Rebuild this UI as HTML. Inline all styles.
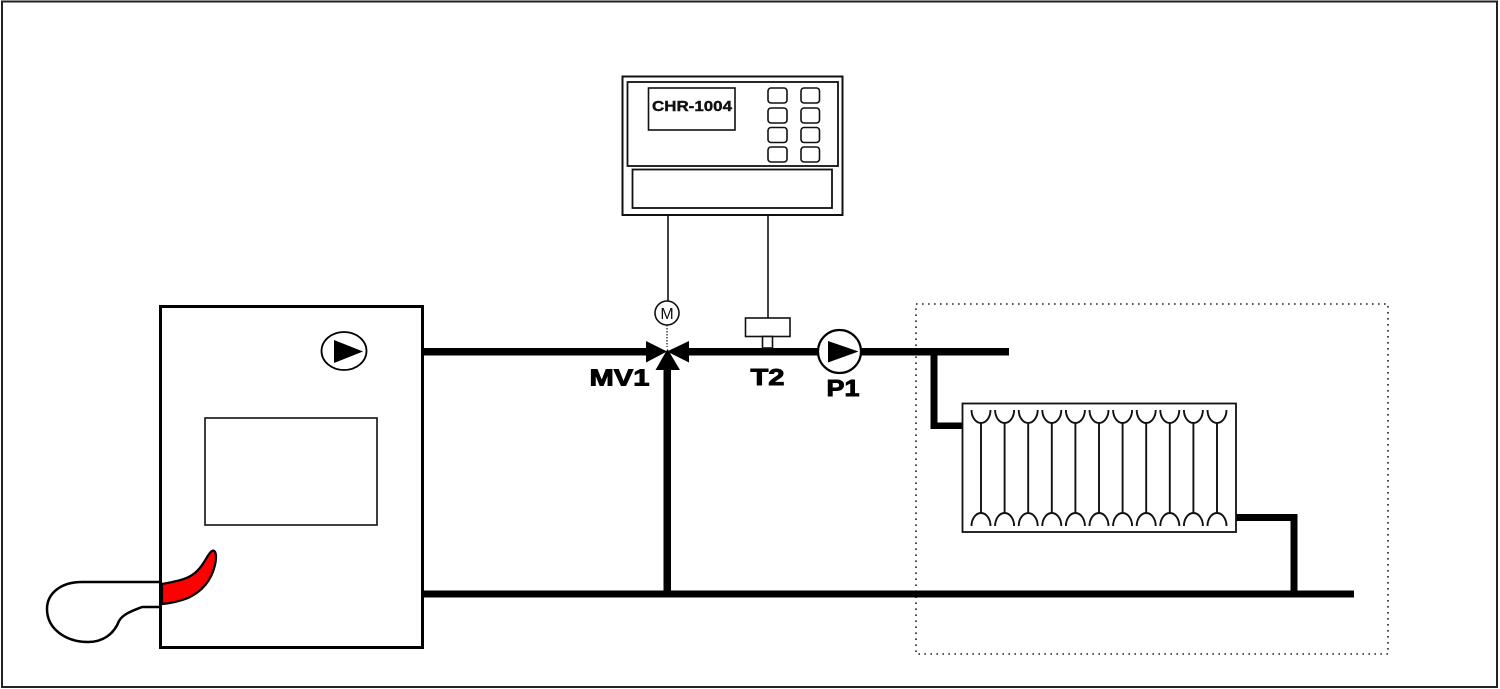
<!DOCTYPE html>
<html>
<head>
<meta charset="utf-8">
<style>
html,body{margin:0;padding:0;background:#fff;}
svg{display:block;}
text{font-family:"Liberation Sans",Arial,sans-serif;}
</style>
</head>
<body>
<svg width="1500" height="689" viewBox="0 0 1500 689" xmlns="http://www.w3.org/2000/svg">
  <rect x="0" y="0" width="1500" height="689" fill="#fff"/>
  <!-- outer border -->
  <rect x="2" y="1.5" width="1495" height="685.5" fill="none" stroke="#222" stroke-width="2"/>

  <!-- dotted zone -->
  <rect x="916" y="304" width="472" height="350" fill="none" stroke="#222" stroke-width="1.6" stroke-dasharray="1.6 4.4"/>

  <!-- controller -->
  <rect x="622.5" y="76.5" width="220" height="138.5" fill="#fff" stroke="#111" stroke-width="2"/>
  <rect x="627.5" y="82" width="210.5" height="84" fill="none" stroke="#111" stroke-width="1.8"/>
  <rect x="632.5" y="169.5" width="199.5" height="38.5" fill="none" stroke="#111" stroke-width="1.8"/>
  <rect x="648.5" y="88" width="86.5" height="42" fill="none" stroke="#111" stroke-width="1.6"/>
  <text x="652" y="111" font-size="15" font-weight="bold" fill="#111" stroke="#111" stroke-width="0.4" textLength="80" lengthAdjust="spacingAndGlyphs">CHR-1004</text>
  <g fill="none" stroke="#111" stroke-width="1.6">
    <rect x="768" y="88" width="19" height="15" rx="3"/>
    <rect x="801" y="88" width="18.5" height="15" rx="3"/>
    <rect x="768" y="108" width="19" height="15" rx="3"/>
    <rect x="801" y="108" width="18.5" height="15" rx="3"/>
    <rect x="768" y="127.5" width="19" height="15" rx="3"/>
    <rect x="801" y="127.5" width="18.5" height="15" rx="3"/>
    <rect x="768" y="147" width="19" height="15" rx="3"/>
    <rect x="801" y="147" width="18.5" height="15" rx="3"/>
  </g>
  <!-- control lines -->
  <line x1="668" y1="215" x2="668" y2="301" stroke="#111" stroke-width="1.6"/>
  <line x1="768" y1="215" x2="768" y2="318" stroke="#111" stroke-width="1.6"/>

  <!-- M actuator -->
  <circle cx="667" cy="313" r="12" fill="#fff" stroke="#111" stroke-width="1.6"/>
  <text x="667" y="319" font-size="16" text-anchor="middle" fill="#111">M</text>
  <line x1="667" y1="325" x2="667" y2="347" stroke="#111" stroke-width="1.2" stroke-dasharray="1.5 1.5"/>

  <!-- main pipes -->
  <g fill="#000">
    <rect x="424" y="348" width="224" height="7.5"/>
    <rect x="687" y="348" width="131" height="7.5"/>
    <rect x="860" y="348" width="149" height="7.5"/>
    <rect x="424" y="590.5" width="930" height="7"/>
    <!-- vertical from valve -->
    <rect x="663.5" y="366" width="7.5" height="230"/>
    <!-- radiator feed -->
    <rect x="930.5" y="350" width="7" height="79"/>
    <rect x="930.5" y="422.5" width="33" height="6.5"/>
    <!-- radiator return -->
    <rect x="1235" y="514" width="62" height="7"/>
    <rect x="1290.5" y="514" width="7" height="80"/>
  </g>

  <!-- valve MV1 -->
  <polygon points="646,341 646,362.5 667,351.5" fill="#000"/>
  <polygon points="689,341 689,362.5 667,351.5" fill="#000"/>
  <polygon points="655.5,370 680,370 667.5,349" fill="#000"/>

  <!-- T2 sensor -->
  <rect x="745.5" y="318" width="44.5" height="18.5" fill="#fff" stroke="#111" stroke-width="1.6"/>
  <rect x="762.5" y="336.5" width="10" height="11.5" fill="#fff" stroke="#111" stroke-width="1.6"/>

  <!-- P1 pump -->
  <circle cx="839.5" cy="351.5" r="21.5" fill="#fff" stroke="#000" stroke-width="2.2"/>
  <polygon points="828,341 828,362.5 858.5,351.5" fill="#000"/>

  <!-- labels -->
  <g fill="#000" stroke="#000" stroke-width="0.9" font-weight="bold">
    <text x="589.5" y="385.5" font-size="23" textLength="60" lengthAdjust="spacingAndGlyphs">MV1</text>
    <text x="750.5" y="385" font-size="23" textLength="34" lengthAdjust="spacingAndGlyphs">T2</text>
    <text x="826.5" y="396" font-size="23" textLength="33" lengthAdjust="spacingAndGlyphs">P1</text>
  </g>

  <!-- boiler -->
  <rect x="160.5" y="306.5" width="262" height="341" fill="#fff" stroke="#000" stroke-width="3"/>
  <rect x="205" y="418" width="172" height="107" fill="none" stroke="#111" stroke-width="1.6"/>
  <ellipse cx="344" cy="351" rx="22.5" ry="19" fill="#fff" stroke="#000" stroke-width="1.8"/>
  <polygon points="334,340 334,363 363,351.5" fill="#000"/>

  <!-- burner -->
  <path d="M159,582 L82,582 C60,582 47,594 47,609 C47,629 66,642 88,642 C103,642 114,634 119,621 C123,614 132,611 142,607 L159,607" fill="none" stroke="#000" stroke-width="2.5" stroke-linejoin="round"/>
  <path d="M162,584 C178,581 190,579 198,570 C205,563 208,553 212,551 C216,549 217,556 215,565 C212,578 205,590 188,598 C178,602 168,603.5 162,604 Z" fill="#f00" stroke="#000" stroke-width="2.2" stroke-linejoin="round"/>

  <!-- radiator -->
  <rect x="962.5" y="403.5" width="273.5" height="128.5" fill="#fff" stroke="#111" stroke-width="1.8"/>
  <g fill="none" stroke="#111" stroke-width="1.9">
    <path d="M971.5,410 A9.5,13 0 0 0 990.5,410 M981,423 L981,513 M971.5,526 A9.5,13 0 0 1 990.5,526"/>
    <path d="M995.1,410 A9.5,13 0 0 0 1014.1,410 M1004.6,423 L1004.6,513 M995.1,526 A9.5,13 0 0 1 1014.1,526"/>
    <path d="M1018.7,410 A9.5,13 0 0 0 1037.7,410 M1028.2,423 L1028.2,513 M1018.7,526 A9.5,13 0 0 1 1037.7,526"/>
    <path d="M1042.3,410 A9.5,13 0 0 0 1061.3,410 M1051.8,423 L1051.8,513 M1042.3,526 A9.5,13 0 0 1 1061.3,526"/>
    <path d="M1065.9,410 A9.5,13 0 0 0 1084.9,410 M1075.4,423 L1075.4,513 M1065.9,526 A9.5,13 0 0 1 1084.9,526"/>
    <path d="M1089.5,410 A9.5,13 0 0 0 1108.5,410 M1099,423 L1099,513 M1089.5,526 A9.5,13 0 0 1 1108.5,526"/>
    <path d="M1113.1,410 A9.5,13 0 0 0 1132.1,410 M1122.6,423 L1122.6,513 M1113.1,526 A9.5,13 0 0 1 1132.1,526"/>
    <path d="M1136.7,410 A9.5,13 0 0 0 1155.7,410 M1146.2,423 L1146.2,513 M1136.7,526 A9.5,13 0 0 1 1155.7,526"/>
    <path d="M1160.3,410 A9.5,13 0 0 0 1179.3,410 M1169.8,423 L1169.8,513 M1160.3,526 A9.5,13 0 0 1 1179.3,526"/>
    <path d="M1183.9,410 A9.5,13 0 0 0 1202.9,410 M1193.4,423 L1193.4,513 M1183.9,526 A9.5,13 0 0 1 1202.9,526"/>
    <path d="M1207.5,410 A9.5,13 0 0 0 1226.5,410 M1217,423 L1217,513 M1207.5,526 A9.5,13 0 0 1 1226.5,526"/>
  </g>
</svg>
</body>
</html>
